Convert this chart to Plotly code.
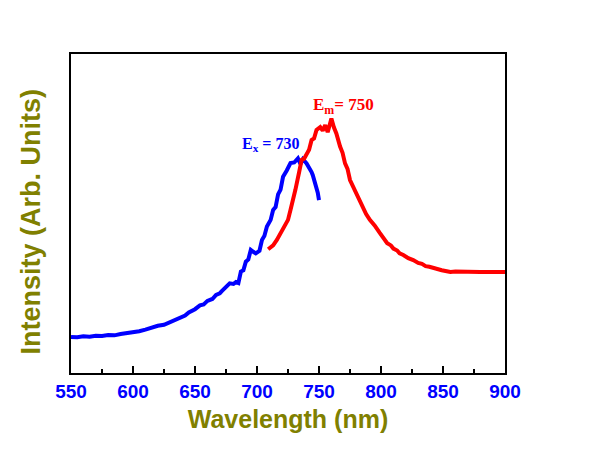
import plotly.graph_objects as go

# Excitation spectrum (blue)
ex_wl = [550, 555, 560, 565, 570, 575, 580, 585, 590, 595, 600, 605, 610, 614, 620, 625, 630, 634, 638,
         642, 645, 650, 654, 657, 660, 664, 667, 670, 672, 675, 678, 681, 683, 685, 687, 689, 691, 693,
         695, 697, 699, 702, 704, 706, 708, 711, 713, 715, 717, 719, 721, 724, 727, 730, 733, 735, 737,
         740, 742, 744, 745, 747, 749, 750]
ex_int = [0.113, 0.112, 0.115, 0.114, 0.117, 0.116, 0.119, 0.118, 0.122, 0.124, 0.129, 0.131, 0.136, 0.141,
          0.148, 0.151, 0.160, 0.166, 0.176, 0.180, 0.190, 0.200, 0.212, 0.215, 0.226, 0.232, 0.245, 0.250,
          0.258, 0.268, 0.281, 0.279, 0.285, 0.282, 0.318, 0.322, 0.349, 0.356, 0.386, 0.380, 0.375, 0.383,
          0.417, 0.430, 0.459, 0.480, 0.511, 0.520, 0.560, 0.575, 0.615, 0.635, 0.658, 0.660, 0.673, 0.655,
          0.670, 0.657, 0.645, 0.630, 0.620, 0.595, 0.565, 0.542]

# Emission spectrum (red)
em_wl = [709, 711, 713, 716, 719, 721, 723, 725, 727, 729, 731, 734, 736, 738, 740, 742, 744, 746, 748,
         751, 753, 755, 757, 760, 762, 764, 767, 769, 771, 773, 775, 778, 781, 783, 786, 788, 791, 795,
         799, 802, 805, 808, 810, 813, 815, 818, 822, 826, 830, 833, 836, 839, 842, 846, 849, 853, 856,
         860, 865, 870, 875, 880, 885, 890, 895, 900]
em_int = [0.388, 0.393, 0.400, 0.417, 0.439, 0.452, 0.470, 0.480, 0.511, 0.540, 0.575, 0.630, 0.668, 0.672,
          0.689, 0.700, 0.730, 0.735, 0.762, 0.771, 0.760, 0.777, 0.755, 0.798, 0.770, 0.751, 0.710, 0.690,
          0.657, 0.640, 0.605, 0.580, 0.553, 0.535, 0.511, 0.498, 0.480, 0.462, 0.439, 0.425, 0.407, 0.400,
          0.390, 0.384, 0.375, 0.370, 0.360, 0.354, 0.345, 0.342, 0.335, 0.333, 0.329, 0.325, 0.322, 0.319,
          0.317, 0.318, 0.317, 0.316, 0.316, 0.317, 0.317, 0.316, 0.316, 0.317]

x_ticks = [550, 600, 650, 700, 750, 800, 850, 900]

fig = go.Figure()
fig.add_trace(go.Scatter(x=ex_wl, y=ex_int, mode="lines",
                         line=dict(color="#0000FF", width=4), showlegend=False))
fig.add_trace(go.Scatter(x=em_wl, y=em_int, mode="lines",
                         line=dict(color="#FF0000", width=4), showlegend=False))

serif = "Liberation Serif, Times New Roman, serif"
fig.add_annotation(x=711, y=0.715, xref="x", yref="y", text="<b>E<sub>x</sub> = 730</b>",
                   showarrow=False, font=dict(family=serif, size=16, color="#0000FF"),
                   xanchor="center", yanchor="middle")
fig.add_annotation(x=769.5, y=0.838, xref="x", yref="y", text="<b>E<sub>m</sub>= 750</b>",
                   showarrow=False, font=dict(family=serif, size=17, color="#FF0000"),
                   xanchor="center", yanchor="middle")
# y-axis title placed as a rotated annotation
fig.add_annotation(x=-0.09, y=0.475, xref="paper", yref="paper", text="<b>Intensity (Arb. Units)</b>",
                   textangle=-90, showarrow=False,
                   font=dict(family="Liberation Sans, Arial, sans-serif", size=27, color="#808000"),
                   xanchor="center", yanchor="middle")

fig.update_layout(
    width=608, height=457,
    margin=dict(l=63, r=111, t=46, b=92),
    paper_bgcolor="white", plot_bgcolor="white",
    font=dict(family="Liberation Sans, Arial, sans-serif"),
    xaxis=dict(range=[550, 900], tickvals=x_ticks, ticktext=[f"<b>{v}</b>" for v in x_ticks],
               ticks="inside", ticklen=7, tickwidth=2, tickcolor="black",
               minor=dict(ticks="inside", ticklen=4, tickwidth=2, dtick=25, tickcolor="black"),
               showline=True, linecolor="black", linewidth=2, mirror=True,
               showgrid=False, zeroline=False,
               tickfont=dict(size=19, color="#0000FF"),
               title=dict(text="<b>Wavelength (nm)</b>", font=dict(size=25, color="#808000"), standoff=10)),
    yaxis=dict(range=[0, 1], showticklabels=False, ticks="",
               showline=True, linecolor="black", linewidth=2, mirror=True,
               showgrid=False, zeroline=False),
)

fig.write_html("out.html")
